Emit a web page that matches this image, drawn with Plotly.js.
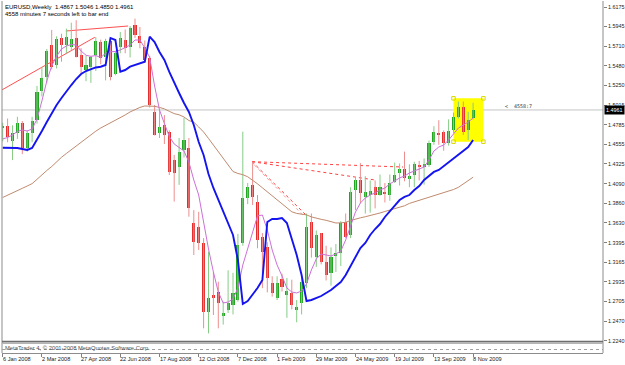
<!DOCTYPE html>
<html><head><meta charset="utf-8">
<script src="https://cdn.plot.ly/plotly-3.0.1.min.js"></script>
<style>html,body{margin:0;padding:0;background:#fff;}#chart{width:625px;height:365px;}</style>
</head><body><div id="chart"></div>
<script>
// ---- Data (weekly bars, index 0 = week of 6 Jan 2008) ----
const openP = [1.4745,1.4775,1.4595,1.4690,1.4805,1.4510,1.4690,1.4840,1.5180,1.5350,
1.5727,1.5490,1.5810,1.5730,1.5700,1.5810,1.5610,1.5430,1.5470,1.5610,
1.5766,1.5590,1.5780,1.5390,1.5700,1.5786,1.5700,1.5960,1.5837,1.5707,
1.5574,1.4940,1.4686,1.4784,1.4705,1.4370,1.4290,1.4489,1.4510,1.3628,
1.3584,1.3389,1.2582,1.2780,1.2818,1.2530,1.2600,1.2660,1.2720,1.3390,
1.3920,1.4076,1.3880,1.3466,1.3350,1.2917,1.2740,1.2968,1.2780,1.2799,
1.2600,1.2680,1.2917,1.3640,1.3230,1.3507,1.3170,1.3035,1.3240,1.3270,
1.3640,1.3487,1.4017,1.4135,1.3940,1.3960,1.4056,1.3960,1.3990,1.3960,
1.4115,1.4220,1.4260,1.4150,1.4190,1.4310,1.4290,1.4310,1.4587,1.4690,
1.4705,1.4570,1.4725,1.4880,1.4999,1.4725,1.4867];
const highP = [1.4810,1.4860,1.4780,1.4880,1.4830,1.4720,1.4880,1.5245,1.5470,1.5680,
1.5905,1.5830,1.5860,1.5920,1.5990,1.6019,1.5690,1.5600,1.5600,1.5820,
1.5790,1.5800,1.5790,1.5660,1.5880,1.5910,1.5950,1.6038,1.5940,1.5780,
1.5600,1.5020,1.4950,1.4900,1.4720,1.4430,1.4630,1.4866,1.4630,1.3780,
1.3760,1.3450,1.3290,1.3050,1.2936,1.2700,1.3070,1.3040,1.3500,1.4705,
1.4100,1.4351,1.3958,1.3510,1.3400,1.3000,1.3000,1.3030,1.2980,1.2960,
1.2720,1.2980,1.3740,1.3740,1.3540,1.3510,1.3360,1.3340,1.3380,1.3650,
1.3740,1.4050,1.4170,1.4335,1.4180,1.4130,1.4130,1.4200,1.4100,1.4200,
1.4340,1.4330,1.4470,1.4320,1.4350,1.4360,1.4390,1.4600,1.4770,1.4840,
1.4720,1.4850,1.4930,1.5060,1.5060,1.4940,1.5046];
const lowP = [1.4590,1.4580,1.4370,1.4620,1.4440,1.4470,1.4580,1.4800,1.5120,1.5280,
1.5440,1.5450,1.5530,1.5630,1.5660,1.5580,1.5390,1.5300,1.5280,1.5420,
1.5500,1.5310,1.5310,1.5370,1.5630,1.5630,1.5580,1.5810,1.5688,1.5520,
1.4990,1.4660,1.4630,1.4560,1.4194,1.3880,1.4077,1.4400,1.3702,1.3250,
1.3310,1.2386,1.2327,1.2543,1.2386,1.2430,1.2567,1.2550,1.2700,1.3360,
1.3850,1.3840,1.3330,1.2860,1.2810,1.2760,1.2720,1.2820,1.2510,1.2610,
1.2457,1.2550,1.2860,1.3220,1.3110,1.3140,1.2950,1.2890,1.3050,1.3120,
1.3450,1.3450,1.3780,1.3860,1.3740,1.3750,1.3800,1.3950,1.3870,1.3890,
1.4100,1.4070,1.4120,1.4050,1.4050,1.4130,1.4080,1.4290,1.4550,1.4550,
1.4480,1.4540,1.4690,1.4860,1.4666,1.4607,1.4850];
const closeP = [1.4775,1.4640,1.4690,1.4805,1.4510,1.4690,1.4830,1.5175,1.5340,1.5660,
1.5470,1.5800,1.5730,1.5820,1.5800,1.5590,1.5470,1.5490,1.5590,1.5775,
1.5570,1.5780,1.5350,1.5630,1.5810,1.5692,1.5930,1.5840,1.5747,1.5550,
1.5020,1.4665,1.4764,1.4665,1.4233,1.4214,1.4470,1.4607,1.3805,1.3407,
1.3389,1.2582,1.2740,1.2740,1.2680,1.2570,1.2680,1.2800,1.3370,1.3920,
1.4056,1.3940,1.3428,1.3290,1.2976,1.2799,1.2917,1.2877,1.2830,1.2660,
1.2634,1.2935,1.3580,1.3330,1.3487,1.3170,1.3010,1.3230,1.3270,1.3628,
1.3466,1.3997,1.4135,1.3978,1.3997,1.4000,1.3960,1.4050,1.3970,1.4096,
1.4190,1.4260,1.4155,1.4180,1.4320,1.4290,1.4320,1.4568,1.4705,1.4660,
1.4570,1.4716,1.4880,1.4999,1.4705,1.4840,1.4961];

// indicator lines
const blueLine = [1.4516,1.4516,1.4513,1.4513,1.4501,1.4489,1.4513,1.4607,1.4713,1.4819,
1.4925,1.5020,1.5102,1.5185,1.5255,1.5326,1.5385,1.5420,1.5444,1.5462,
1.5471,1.5491,1.5810,1.5786,1.5412,1.5432,1.5471,1.5491,1.5509,1.5530,
1.5825,1.5762,1.5644,1.5550,1.5409,1.5279,1.5161,1.5043,1.4937,1.4784,
1.4583,1.4430,1.4206,1.4041,1.3899,1.3758,1.3628,1.3487,1.3192,1.2673,
1.2708,1.2779,1.2862,1.2956,1.3640,1.3675,1.3675,1.3687,1.3628,1.3439,
1.3251,1.3015,1.2708,1.2720,1.2744,1.2767,1.2803,1.2838,1.2885,1.2932,
1.3015,1.3121,1.3239,1.3333,1.3392,1.3487,1.3557,1.3616,1.3699,1.3770,
1.3840,1.3899,1.3935,1.3958,1.4017,1.4064,1.4135,1.4182,1.4230,1.4253,
1.4300,1.4336,1.4383,1.4430,1.4477,1.4524,1.4607];
const violetLine = [1.4619,1.4636,1.4666,1.4707,1.4725,1.4713,1.4737,1.4854,1.5067,1.5302,
1.5479,1.5597,1.5680,1.5715,1.5733,1.5727,1.5656,1.5606,1.5593,1.5603,
1.5580,1.5630,1.5648,1.5650,1.5668,1.5698,1.5727,1.5786,1.5786,1.5692,
1.5580,1.5244,1.4961,1.4801,1.4648,1.4560,1.4516,1.4477,1.4347,1.4135,
1.3958,1.3616,1.3321,1.3050,1.2814,1.2685,1.2696,1.2732,1.2862,1.3133,
1.3333,1.3522,1.3711,1.3722,1.3545,1.3310,1.3133,1.3003,1.2862,1.2814,
1.2803,1.2826,1.2909,1.3074,1.3204,1.3263,1.3251,1.3239,1.3263,1.3298,
1.3428,1.3605,1.3758,1.3864,1.3923,1.3958,1.3982,1.4017,1.4041,1.4088,
1.4123,1.4159,1.4182,1.4218,1.4241,1.4265,1.4288,1.4371,1.4477,1.4524,
1.4548,1.4607,1.4678,1.4748,1.4784,1.4819,1.4866];
const brownLine = [1.3929,1.3958,1.3988,1.4010,1.4037,1.4064,1.4092,1.4143,1.4201,1.4247,
1.4294,1.4354,1.4403,1.4448,1.4492,1.4538,1.4586,1.4629,1.4671,1.4711,
1.4748,1.4778,1.4804,1.4836,1.4867,1.4902,1.4938,1.4969,1.4991,1.5008,
1.5008,1.5004,1.4991,1.4974,1.4945,1.4918,1.4904,1.4878,1.4836,1.4817,
1.4760,1.4701,1.4625,1.4548,1.4469,1.4392,1.4314,1.4235,1.4212,1.4198,
1.4173,1.4135,1.4090,1.4043,1.3995,1.3946,1.3899,1.3852,1.3806,1.3760,
1.3741,1.3734,1.3724,1.3700,1.3681,1.3671,1.3660,1.3642,1.3628,1.3630,
1.3636,1.3658,1.3676,1.3689,1.3702,1.3715,1.3729,1.3746,1.3764,1.3781,
1.3794,1.3806,1.3831,1.3859,1.3877,1.3895,1.3908,1.3926,1.3945,1.3965,
1.3987,1.4005,1.4023,1.4049,1.4086,1.4121,1.4168];

// drawn objects (index, price)
const trendA = {x:[-0.2, 18.8], y:[1.5196, 1.5818]};
const trendB = {x:[12.9, 25.6], y:[1.5892, 1.5951]};
const fanLines = [
  {x:[50.9, 81.7], y:[1.4351, 1.4288]},
  {x:[50.9, 76.0], y:[1.4351, 1.4135]},
  {x:[50.9, 62.1], y:[1.4351, 1.3711]},
  {x:[51.4, 61.6], y:[1.4310, 1.3700]}
];
const boxX = [92.0, 98.1];
const boxY = [1.4587, 1.5098];
const lastPrice = 1.4961;

const tickIdx = [0,8,16,24,32,40,48,56,64,72,80,88,96];
const tickLabels = ['6 Jan 2008','2 Mar 2008','27 Apr 2008','22 Jun 2008','17 Aug 2008','12 Oct 2008','7 Dec 2008','1 Feb 2009','29 Mar 2009','24 May 2009','19 Jul 2009','13 Sep 2009','8 Nov 2009'];
const priceTicks = [1.6175,1.5945,1.5710,1.5480,1.5250,1.5015,1.4785,1.4555,1.4325,1.4090,1.3860,1.3630,1.3395,1.3165,1.2935,1.2705,1.2470,1.2240];

// ---- build traces ----
const GREEN='#22A622', RED='#E62E2E', GWICK='#86CC86', RWICK='#EE8E8E';
const idx = openP.map((_,i)=>i);
const gwx=[],gwy=[],rwx=[],rwy=[];
const bodyBase=[], bodyH=[], bodyCol=[];
idx.forEach(i=>{
  const up = closeP[i]>=openP[i];
  (up?gwx:rwx).push(i,i,null);
  (up?gwy:rwy).push(lowP[i],highP[i],null);
  const lo=Math.min(openP[i],closeP[i]);
  bodyBase.push(lo);
  bodyH.push(Math.max(Math.abs(closeP[i]-openP[i]),0.0009));
  bodyCol.push(up?GREEN:RED);
});

const traces = [
  {x:[boxX[0],boxX[1],boxX[0],boxX[1]], y:[boxY[1],boxY[1],boxY[0],boxY[0]], mode:'markers', type:'scatter',
   marker:{symbol:'square-open',size:3.5,color:'#D8D800',line:{width:1}}, hoverinfo:'skip'},
  {x:trendA.x, y:trendA.y, mode:'lines', type:'scatter', line:{color:'#FF5050',width:1}},
  {x:trendB.x, y:trendB.y, mode:'lines', type:'scatter', line:{color:'#FF5050',width:1}},
];
fanLines.forEach((f,k)=>traces.push({x:f.x,y:f.y,mode:'lines',type:'scatter',
  line:{color:k===3?'#F4A0A0':'#FF4040',width:1,dash:'dot'}}));
traces.push(
  {x:gwx, y:gwy, mode:'lines', type:'scatter', line:{color:GWICK,width:1}, connectgaps:false},
  {x:rwx, y:rwy, mode:'lines', type:'scatter', line:{color:RWICK,width:1}, connectgaps:false},
  {x:idx, y:bodyH, base:bodyBase, type:'bar', width:0.62, marker:{color:bodyCol,line:{width:0}}},
  {x:idx, y:brownLine, mode:'lines', type:'scatter', line:{color:'#C08A6E',width:1}},
  {x:idx, y:violetLine, mode:'lines', type:'scatter', line:{color:'#CC70D8',width:1}},
  {x:idx, y:blueLine, mode:'lines', type:'scatter', line:{color:'#1414F0',width:1.9}}
);

const H=352; // plot-area height in px
const pp = px => (353-px)/H; // pixel row -> paper y
const annotations = [
  {xref:'paper', yref:'paper', x:0, y:pp(6.5), xanchor:'left', yanchor:'middle', showarrow:false, xshift:1,
   text:'EURUSD,Weekly  1.4867 1.5046 1.4850 1.4961', font:{size:6,color:'#000'}},
  {xref:'paper', yref:'paper', x:0, y:pp(14.5), xanchor:'left', yanchor:'middle', showarrow:false, xshift:1,
   text:'4558 minutes 7 seconds left to bar end', font:{size:6,color:'#000'}},
  {xref:'x', yref:'y', x:102.1, y:lastPrice, yshift:4, xanchor:'left', yanchor:'middle', showarrow:false,
   text:'<  4558:7', font:{size:5,color:'#333',family:'DejaVu Sans Mono, monospace'}},
  {xref:'paper', yref:'y', x:1, y:lastPrice, xanchor:'left', yanchor:'middle', showarrow:false, xshift:1,
   text:'1.4961', bgcolor:'#000', borderpad:1, font:{size:5.4,color:'#FFF'}},
  {xref:'paper', yref:'paper', x:0, y:pp(347.5), xanchor:'left', yanchor:'middle', showarrow:false, xshift:1,
   text:'MetaTrader 4, © 2001-2008 MetaQuotes Software Corp.', font:{size:5.8,color:'#505050'}}
];
tickIdx.forEach((t,k)=>annotations.push({xref:'x', yref:'paper', x:t, y:pp(359), xanchor:'left', yanchor:'middle',
  showarrow:false, xshift:-1, borderpad:0, text:tickLabels[k], font:{size:5.6,color:'#222'}}));

const layout = {
  width:625, height:365,
  margin:{l:2, r:22, t:1, b:12, pad:0},
  paper_bgcolor:'#FFFFFF', plot_bgcolor:'#FFFFFF',
  showlegend:false, hovermode:false, bargap:0,
  font:{family:'Liberation Sans, Arial, sans-serif', color:'#000'},
  xaxis:{range:[-0.143,122.51], anchor:'free', position:0, showgrid:false, zeroline:false,
    tickmode:'array', tickvals:tickIdx, ticktext:tickIdx.map(()=>''), ticks:'outside', ticklen:3, tickcolor:'#808080',
    showticklabels:true, tickfont:{size:1},
    showline:true, linecolor:'#8C8C8C', linewidth:1},
  yaxis:{domain:[pp(341),1], range:[1.22365,1.62459], side:'right', showgrid:false, zeroline:false,
    tickmode:'array', tickvals:priceTicks, ticktext:priceTicks.map(v=>v.toFixed(4)),
    ticks:'outside', ticklen:3, tickcolor:'#808080', tickfont:{size:5.4, color:'#222'},
    showline:false},
  shapes:[
    {type:'rect', xref:'x', yref:'y', x0:boxX[0], x1:boxX[1], y0:boxY[0], y1:boxY[1], fillcolor:'#FFFF00', line:{width:0}, layer:'below'},
    {type:'line', xref:'paper', yref:'y', x0:0, x1:1, y0:lastPrice, y1:lastPrice, line:{color:'#C4C4C4',width:1}, layer:'below'},
    {type:'line', xref:'paper', yref:'paper', x0:1, x1:1, y0:0, y1:1, line:{color:'#8C8C8C',width:1}},
    {type:'line', xref:'paper', yref:'paper', x0:0, x1:0, y0:0, y1:1, line:{color:'#8C8C8C',width:1}},
    {type:'line', xref:'paper', yref:'paper', x0:0, x1:1, y0:pp(341.6), y1:pp(341.6), line:{color:'#6E6E6E',width:1.6}},
    {type:'line', xref:'paper', yref:'paper', x0:0, x1:1, y0:pp(343.5), y1:pp(343.5), line:{color:'#B4B4B4',width:1}},
    {type:'line', xref:'paper', yref:'paper', x0:0, x1:1, y0:pp(349.5), y1:pp(349.5), line:{color:'#A0A0A0',width:1,dash:'dot'}}
  ],
  annotations: annotations
};
Plotly.newPlot('chart', traces, layout, {staticPlot:true, displayModeBar:false});
</script></body></html>
